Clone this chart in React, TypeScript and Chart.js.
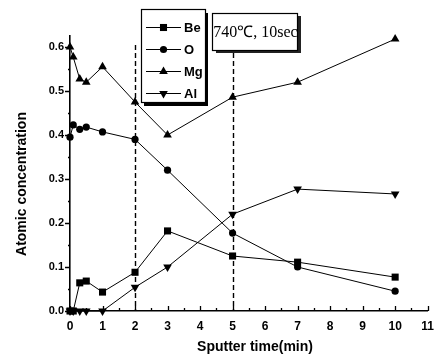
import React, { useEffect, useRef } from "react";
import { Chart, registerables } from "chart.js";

Chart.register(...registerables);

// Sputter depth profile: sputter time (min) vs atomic concentration
const sputterTime = [0, 0.1, 0.3, 0.5, 1, 2, 3, 5, 7, 10];
const beValues = [0, 0, 0.064, 0.068, 0.043, 0.088, 0.182, 0.125, 0.111, 0.077];
const oValues = [0.395, 0.423, 0.413, 0.418, 0.407, 0.39, 0.32, 0.177, 0.1, 0.045];
const mgValues = [0.6, 0.577, 0.527, 0.52, 0.555, 0.475, 0.4, 0.486, 0.52, 0.618];
const alValues = [0, 0, 0, 0, 0, 0.054, 0.1, 0.22, 0.277, 0.266];

const seriesNames = ["Be", "O", "Mg", "Al"];
const xTickValues = [0, 1, 2, 3, 4, 5, 6, 7, 8, 9, 10, 11];
const yTickValues = [0, 0.1, 0.2, 0.3, 0.4, 0.5, 0.6];
const markerTimes = [2, 5];
const annotationText = "740\u2103, 10sec";
const xTitle = "Sputter time(min)";
const yTitle = "Atomic concentration";

const SANS = "'Liberation Sans', Arial, sans-serif";
const SERIF = "'Liberation Serif', 'Times New Roman', serif";

type Marker = { style: string; radius: number; rotation: number };
const markers: Marker[] = [
  { style: "rect", radius: 5, rotation: 0 },
  { style: "circle", radius: 3.6, rotation: 0 },
  { style: "triangle", radius: 5, rotation: 0 },
  { style: "triangle", radius: 5, rotation: 180 },
];

const toPoints = (vals: number[]) => sputterTime.map((t, i) => ({ x: t, y: vals[i] }));

function drawMarker(ctx: CanvasRenderingContext2D, m: Marker, x: number, y: number) {
  ctx.beginPath();
  if (m.style === "rect") {
    const s = m.radius * Math.SQRT1_2;
    ctx.rect(x - s, y - s, 2 * s, 2 * s);
  } else if (m.style === "circle") {
    ctx.arc(x, y, m.radius, 0, Math.PI * 2);
  } else {
    const r = m.radius;
    const dir = m.rotation === 180 ? -1 : 1;
    const half = r * 0.866;
    ctx.moveTo(x, y - dir * r);
    ctx.lineTo(x - half, y + dir * r * 0.5);
    ctx.lineTo(x + half, y + dir * r * 0.5);
    ctx.closePath();
  }
  ctx.fill();
}

const overlayPlugin = {
  id: "overlay",
  afterDraw(chart: any) {
    const ctx: CanvasRenderingContext2D = chart.ctx;
    const xs = chart.scales.x;
    const ys = chart.scales.y;
    const area = chart.chartArea;
    ctx.save();

    // axis tick marks: x inward (major + half-step minor), y outward
    ctx.strokeStyle = "#000";
    ctx.lineWidth = 1.3;
    ctx.beginPath();
    for (let v = 0; v <= 11.001; v += 0.5) {
      const px = Math.round(xs.getPixelForValue(v)) + 0.5;
      const len = Math.abs(v - Math.round(v)) < 1e-6 ? 5 : 3;
      ctx.moveTo(px, area.bottom);
      ctx.lineTo(px, area.bottom - len);
    }
    for (let v = 0; v <= 0.6001; v += 0.05) {
      const py = Math.round(ys.getPixelForValue(v)) + 0.5;
      const major = Math.abs(v * 10 - Math.round(v * 10)) < 1e-6;
      ctx.moveTo(area.left, py);
      ctx.lineTo(area.left - (major ? 5 : 2), py);
    }
    ctx.stroke();

    // dashed guides at the marked sputter times
    ctx.setLineDash([5, 3]);
    ctx.lineWidth = 1.4;
    const tops = [45, 53];
    markerTimes.forEach((t, i) => {
      const px = Math.round(xs.getPixelForValue(t)) + 0.5;
      ctx.beginPath();
      ctx.moveTo(px, tops[i]);
      ctx.lineTo(px, area.bottom);
      ctx.stroke();
    });
    ctx.setLineDash([]);

    // legend box with drop shadow
    const lx = 141, ly = 9, lw = 64, lh = 93;
    ctx.fillStyle = "#000";
    ctx.fillRect(lx + 3, ly + 4, lw, lh);
    ctx.fillStyle = "#fff";
    ctx.fillRect(lx, ly, lw, lh);
    ctx.strokeStyle = "#000";
    ctx.lineWidth = 1.2;
    ctx.strokeRect(lx + 0.5, ly + 0.5, lw, lh);
    const rowY = [27, 49, 71, 93];
    seriesNames.forEach((name, i) => {
      const y = rowY[i];
      ctx.strokeStyle = "#000";
      ctx.lineWidth = 1;
      ctx.beginPath();
      ctx.moveTo(146, y + 0.5);
      ctx.lineTo(181, y + 0.5);
      ctx.stroke();
      ctx.fillStyle = "#000";
      drawMarker(ctx, markers[i], 163.5, y + 0.5);
      ctx.font = `bold 13px ${SANS}`;
      ctx.textAlign = "left";
      ctx.textBaseline = "middle";
      ctx.fillText(name, 184, y + 1);
    });

    // annotation box
    const ax = 212, ay = 13, aw = 85, ah = 37;
    ctx.fillStyle = "#222";
    ctx.fillRect(ax + 4, ay + 3, aw, ah);
    ctx.fillStyle = "#fff";
    ctx.fillRect(ax, ay, aw, ah);
    ctx.strokeStyle = "#000";
    ctx.lineWidth = 1.2;
    ctx.strokeRect(ax + 0.5, ay + 0.5, aw, ah);
    ctx.fillStyle = "#000";
    ctx.font = `16px ${SERIF}`;
    ctx.textAlign = "center";
    ctx.textBaseline = "middle";
    ctx.fillText(annotationText, ax + aw / 2 + 1, ay + ah / 2 + 1);

    // axis titles
    ctx.font = `bold 14px ${SANS}`;
    ctx.textAlign = "center";
    ctx.textBaseline = "middle";
    ctx.fillText(xTitle, 255, 347);
    ctx.save();
    ctx.translate(22, 184);
    ctx.rotate(-Math.PI / 2);
    ctx.fillText(yTitle, 0, 0);
    ctx.restore();

    ctx.restore();
  },
};

export default function App() {
  const canvasRef = useRef<HTMLCanvasElement | null>(null);

  useEffect(() => {
    if (!canvasRef.current) return;
    const seriesValues = [beValues, oValues, mgValues, alValues];
    const chart = new Chart(canvasRef.current, {
      type: "scatter",
      data: {
        datasets: seriesNames.map((name, i) => ({
          label: name,
          data: toPoints(seriesValues[i]),
          showLine: true,
          borderColor: "#000",
          backgroundColor: "#000",
          borderWidth: 1,
          pointStyle: markers[i].style as any,
          pointRadius: markers[i].radius,
          pointRotation: markers[i].rotation,
          pointBorderWidth: 0,
          clip: false as any,
        })),
      },
      options: {
        animation: false,
        responsive: false,
        maintainAspectRatio: false,
        layout: { padding: { top: 36, right: 7, left: 0, bottom: 0 } },
        plugins: { legend: { display: false }, tooltip: { enabled: false } },
        scales: {
          x: {
            type: "linear",
            min: 0,
            max: 11,
            afterFit: (s: any) => { s.height = 48; },
            afterBuildTicks: (s: any) => { s.ticks = xTickValues.map((v) => ({ value: v })); },
            grid: { display: false, drawTicks: false },
            border: { display: true, color: "#000", width: 1.6 },
            ticks: {
              color: "#000",
              padding: 8,
              font: { family: SANS, size: 12, weight: "bold" },
              callback: (v: any) => String(v),
            },
          },
          y: {
            type: "linear",
            min: 0,
            max: 0.625,
            afterFit: (s: any) => { s.width = 70; },
            afterBuildTicks: (s: any) => { s.ticks = yTickValues.map((v) => ({ value: v })); },
            grid: { display: false, drawTicks: false },
            border: { display: true, color: "#000", width: 1.6 },
            ticks: {
              color: "#000",
              padding: 6,
              font: { family: SANS, size: 11, weight: "bold" },
              callback: (v: any) => Number(v).toFixed(1),
            },
          },
        },
      },
      plugins: [overlayPlugin],
    });
    return () => chart.destroy();
  }, []);

  return (
    <div style={{ position: "absolute", left: 0, top: 0, width: 442, height: 359, background: "#fff" }}>
      <canvas ref={canvasRef} width={442} height={359} style={{ width: 442, height: 359 }} />
    </div>
  );
}
